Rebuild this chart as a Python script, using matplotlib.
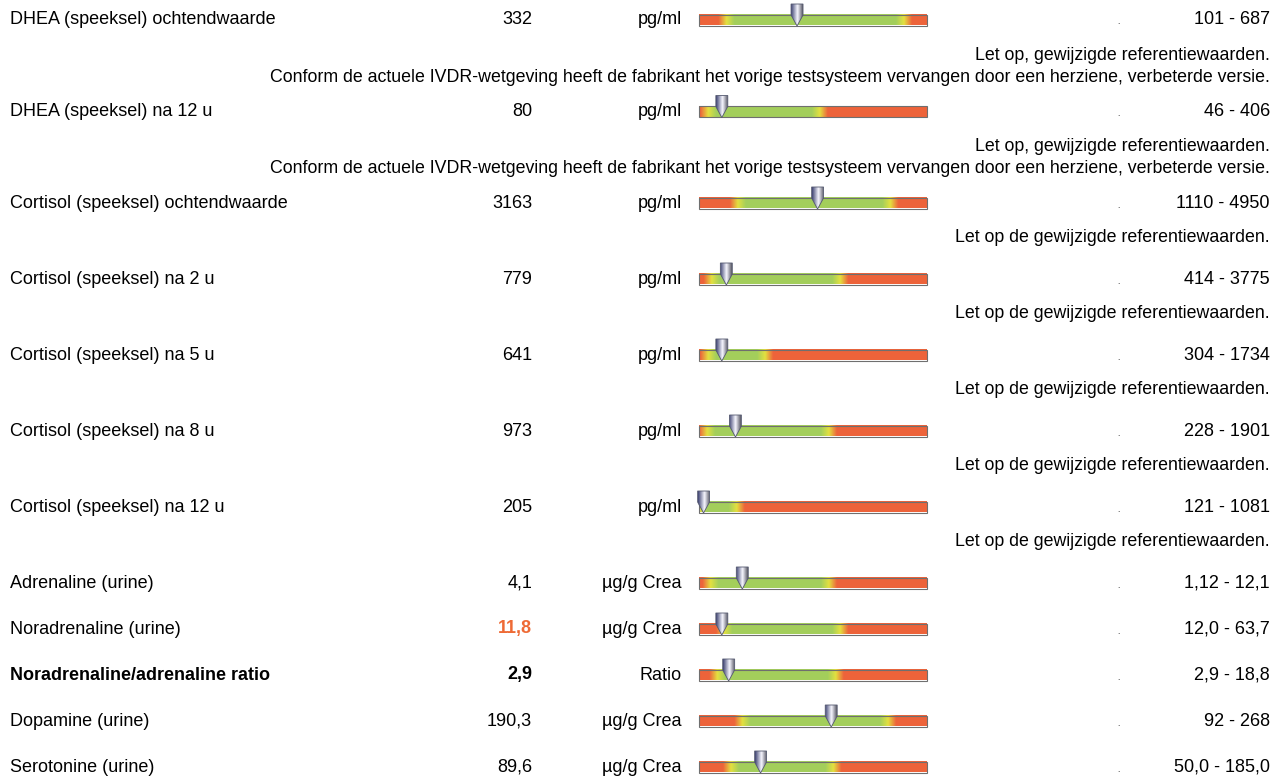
import numpy as np
import matplotlib
matplotlib.use('Agg')
import matplotlib.pyplot as plt
from matplotlib.patches import Rectangle, Polygon

plt.rcParams['font.family'] = ['Liberation Sans', 'DejaVu Sans']

names = ['DHEA (speeksel) ochtendwaarde', 'DHEA (speeksel) na 12 u',
         'Cortisol (speeksel) ochtendwaarde', 'Cortisol (speeksel) na 2 u',
         'Cortisol (speeksel) na 5 u', 'Cortisol (speeksel) na 8 u',
         'Cortisol (speeksel) na 12 u', 'Adrenaline (urine)',
         'Noradrenaline (urine)', 'Noradrenaline/adrenaline ratio',
         'Dopamine (urine)', 'Serotonine (urine)']
values = ['332', '80', '3163', '779', '641', '973', '205', '4,1', '11,8', '2,9', '190,3', '89,6']
units = ['pg/ml'] * 7 + ['µg/g Crea', 'µg/g Crea', 'Ratio', 'µg/g Crea', 'µg/g Crea']
ranges = ['101 - 687', '46 - 406', '1110 - 4950', '414 - 3775', '304 - 1734', '228 - 1901',
          '121 - 1081', '1,12 - 12,1', '12,0 - 63,7', '2,9 - 18,8', '92 - 268', '50,0 - 185,0']
# position of the marker and of the green zone on the bar (0 = left end, 1 = right end)
marker_pos = [0.43, 0.10, 0.52, 0.12, 0.10, 0.16, 0.02, 0.19, 0.10, 0.13, 0.58, 0.27]
green_start = [0.12, 0.04, 0.17, 0.055, 0.04, 0.035, 0.0, 0.05, 0.11, 0.08, 0.19, 0.14]
green_end = [0.90, 0.53, 0.84, 0.62, 0.29, 0.57, 0.165, 0.57, 0.62, 0.60, 0.83, 0.59]
bold_rows = [9]
high_low = [8]  # value outside range -> orange
note_a = 'Let op, gewijzigde referentiewaarden.'
note_b = ('Conform de actuele IVDR-wetgeving heeft de fabrikant het vorige testsysteem '
          'vervangen door een herziene, verbeterde versie.')
note_c = 'Let op de gewijzigde referentiewaarden.'
notes = [[note_a, note_b], [note_a, note_b], [note_c], [note_c], [note_c], [note_c], [note_c],
         [], [], [], [], []]

RED = np.array([0.93, 0.39, 0.23])
YEL = np.array([0.89, 0.88, 0.25])
GRN = np.array([0.64, 0.81, 0.36])


def bar_colours(s, e, n=600, w=0.035):
    x = np.linspace(0, 1, n)
    out = np.zeros((n, 3))
    for i, xx in enumerate(x):
        d = min(xx - s, e - xx)  # >0 inside green zone
        if d >= w:
            c = GRN
        elif d >= 0:
            t = d / w
            c = YEL * (1 - t) + GRN * t
        elif d >= -w:
            t = -d / w
            c = YEL * (1 - t) + RED * t
        else:
            c = RED
        out[i] = c
    return out[None, :, :]


def pin_shading(n=40):
    x = np.linspace(0, 1, n)
    dark = np.array([0.25, 0.27, 0.45])
    light = np.array([0.97, 0.97, 1.0])
    grey = np.array([0.35, 0.35, 0.40])
    out = np.zeros((n, 3))
    for i, xx in enumerate(x):
        if xx < 0.55:
            t = xx / 0.55
            out[i] = dark * (1 - t) + light * t
        else:
            t = (xx - 0.55) / 0.45
            out[i] = light * (1 - t) + grey * t
    return out[None, :, :]


fig = plt.figure(figsize=(12.74, 7.82), dpi=100)
ax = fig.add_axes([0, 0, 1, 1])
ax.set_xlim(0, 1274)
ax.set_ylim(782, 0)
ax.axis('off')

BX0, BX1 = 699, 927
BH = 11
FS = 13
NFS = 12.8

y = 20
for i in range(len(names)):
    weight = 'bold' if i in bold_rows else 'normal'
    ax.text(10, y, names[i], fontsize=FS, va='center', ha='left', fontweight=weight)
    vcol = '#EE6A35' if i in high_low else 'black'
    vweight = 'bold' if (i in bold_rows or i in high_low) else 'normal'
    ax.text(532, y, values[i], fontsize=FS, va='center', ha='right', color=vcol, fontweight=vweight)
    ax.text(682, y, units[i], fontsize=FS, va='center', ha='right')
    ax.text(1118, y + 3, '.', fontsize=6, va='center', ha='center')
    ax.text(1270, y, ranges[i], fontsize=FS, va='center', ha='right')

    # gradient bar
    ax.imshow(bar_colours(green_start[i], green_end[i]), extent=(BX0, BX1, y + BH / 2, y - BH / 2),
              aspect='auto', interpolation='bilinear', zorder=2)
    ax.add_patch(Rectangle((BX0, y - BH / 2), BX1 - BX0, BH, fill=False,
                           edgecolor='#6f6f6f', linewidth=0.8, zorder=3))

    # marker pin
    mx = BX0 + marker_pos[i] * (BX1 - BX0)
    hw = 6
    pin = Polygon([(mx - hw, y - 16), (mx + hw, y - 16), (mx + hw, y - 5),
                   (mx, y + 6), (mx - hw, y - 5)], closed=True,
                  facecolor='none', edgecolor='#555a70', linewidth=0.6, zorder=5)
    ax.add_patch(pin)
    im = ax.imshow(pin_shading(), extent=(mx - hw, mx + hw, y + 6, y - 16),
                   aspect='auto', interpolation='bilinear', zorder=4)
    im.set_clip_path(pin)

    ny = y + 35
    for note in notes[i]:
        ax.text(1270, ny, note, fontsize=NFS, va='center', ha='right')
        ny += 22
    if len(notes[i]) == 0:
        y += 46
    elif len(notes[i]) == 1:
        y += 76
    else:
        y += 91.5

ax.set_xlim(0, 1274)
ax.set_ylim(782, 0)
fig.savefig('out.png', dpi=100, facecolor='white')
